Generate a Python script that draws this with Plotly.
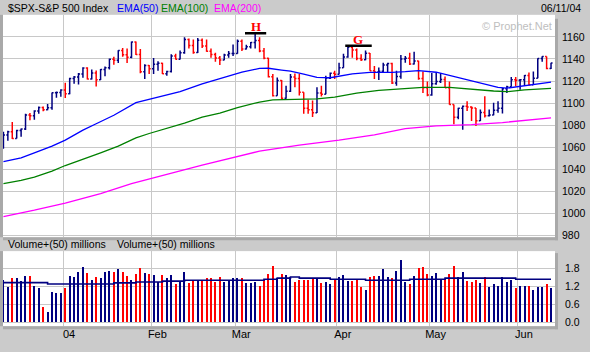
import pandas as pd
import plotly.graph_objects as go

# ---------------- data ----------------
holidays = ["2003-12-25", "2004-01-01", "2004-01-19", "2004-02-16",
            "2004-04-09", "2004-05-31"]
dates = pd.bdate_range("2003-12-11", "2004-06-10", freq="C", holidays=holidays)

closes = [
    1071.21, 1074.14, 1068.04, 1075.13, 1076.48, 1089.18, 1088.66, 1092.94, 1096.02, 1094.04,
    1095.89, 1109.48, 1109.64, 1111.92,
    1108.48, 1122.22, 1123.67, 1126.33, 1131.92, 1121.86, 1127.23, 1121.22, 1130.52, 1132.05,
    1139.83, 1138.77, 1147.62, 1143.94, 1141.55, 1155.37, 1144.05, 1128.48, 1134.11, 1131.13,
    1135.26, 1136.03, 1126.52, 1128.59, 1142.76, 1139.81, 1145.54, 1157.76, 1152.11, 1145.81,
    1156.99, 1151.82, 1147.06, 1144.11, 1140.99, 1139.09, 1143.67, 1144.91, 1144.94,
    1155.97, 1149.10, 1151.03, 1154.87, 1156.86, 1147.20, 1140.58, 1123.89, 1106.78, 1120.57,
    1104.49, 1110.70, 1123.75, 1122.32, 1109.78, 1095.40, 1093.95, 1091.33, 1109.19, 1108.06,
    1122.47, 1127.00, 1126.21,
    1132.17, 1141.81, 1150.57, 1148.16, 1140.53, 1139.32, 1145.20, 1129.44, 1128.17, 1128.84,
    1134.61, 1135.82, 1118.15, 1124.09, 1139.93, 1140.60, 1135.53, 1138.11, 1122.41, 1113.89,
    1107.30,
    1117.49, 1119.55, 1121.53, 1113.99, 1098.70, 1087.12, 1095.45, 1097.28, 1096.44, 1095.70,
    1084.10, 1091.49, 1088.68, 1089.19, 1093.56, 1095.41, 1113.05, 1114.94, 1121.28, 1120.68,
    1121.20, 1124.99, 1116.64, 1122.50, 1140.42, 1142.18, 1131.33, 1136.47,
]

opens = [
    1059.05, 1071.21, 1074.14, 1068.04, 1075.13, 1076.48, 1089.18, 1088.66, 1092.94, 1096.02,
    1094.04, 1095.89, 1109.48, 1109.64,
    1111.92, 1108.48, 1122.22, 1123.67, 1126.33, 1131.92, 1121.86, 1127.23, 1121.22, 1130.52,
    1132.05, 1139.83, 1138.77, 1147.62, 1143.94, 1141.55, 1155.37, 1144.05, 1128.48, 1134.11,
    1131.13, 1135.26, 1136.03, 1126.52, 1128.59, 1142.76, 1139.81, 1145.54, 1157.76, 1152.11,
    1145.81, 1156.99, 1151.82, 1147.06, 1144.11, 1140.99, 1139.09, 1143.67, 1144.91,
    1144.94, 1155.97, 1149.10, 1151.03, 1154.87, 1156.86, 1147.20, 1140.58, 1123.89, 1106.78,
    1120.57, 1104.49, 1110.70, 1123.75, 1122.32, 1109.78, 1095.40, 1093.95, 1091.33, 1109.19,
    1108.06, 1122.47, 1127.00,
    1126.21, 1132.17, 1141.81, 1150.57, 1148.16, 1140.53, 1139.32, 1145.20, 1129.44, 1128.17,
    1128.84, 1134.61, 1135.82, 1118.15, 1124.09, 1139.93, 1140.60, 1135.53, 1138.11, 1122.41,
    1113.89,
    1107.30, 1117.49, 1119.55, 1121.53, 1113.99, 1098.70, 1087.12, 1095.45, 1097.28, 1096.44,
    1095.70, 1084.10, 1091.49, 1088.68, 1089.19, 1093.56, 1095.41, 1113.05, 1114.94, 1121.28,
    1120.68, 1121.20, 1124.99, 1116.64, 1122.50, 1140.42, 1142.18, 1131.33,
]

highs = [
    1074.0, 1075.0, 1083.0, 1076.0, 1077.0, 1090.4, 1091.0, 1093.5, 1097.0, 1097.0,
    1099.3, 1109.6, 1110.5, 1112.5,
    1118.5, 1123.0, 1124.5, 1127.4, 1132.5, 1132.5, 1130.4, 1129.5, 1130.9, 1133.3,
    1140.5, 1142.0, 1148.0, 1150.0, 1149.6, 1155.8, 1155.8, 1149.0, 1135.2, 1134.6,
    1141.0, 1138.0, 1136.7, 1129.3, 1144.2, 1144.8, 1147.8, 1159.7, 1158.5, 1157.6,
    1159.0, 1158.5, 1157.6, 1149.6, 1145.7, 1142.7, 1144.8, 1147.2, 1153.1,
    1157.6, 1157.6, 1153.0, 1155.5, 1163.2, 1159.7, 1150.0, 1141.2, 1126.3, 1123.3,
    1121.0, 1115.8, 1126.3, 1126.9, 1126.3, 1109.9, 1103.0, 1102.4, 1114.3, 1115.8,
    1124.8, 1127.8, 1129.3,
    1136.7, 1144.8, 1151.6, 1151.6, 1149.6, 1144.2, 1147.8, 1145.5, 1133.7, 1132.2,
    1136.7, 1136.7, 1136.7, 1129.3, 1143.6, 1142.7, 1145.7, 1146.6, 1138.5, 1128.7,
    1119.7,
    1127.2, 1127.2, 1127.2, 1124.2, 1119.7, 1098.8, 1095.8, 1097.9, 1101.8, 1097.3,
    1092.8, 1094.3, 1106.3, 1094.3, 1100.3, 1101.8, 1113.8, 1115.8, 1123.6, 1123.6,
    1121.8, 1125.5, 1127.8, 1128.7, 1140.6, 1142.5, 1141.5, 1136.7,
]

lows = [
    1059.0, 1066.0, 1067.5, 1068.0, 1069.6, 1075.6, 1084.4, 1085.0, 1090.4, 1092.7,
    1093.5, 1094.0, 1105.0, 1105.9,
    1104.6, 1108.0, 1117.6, 1117.0, 1123.0, 1121.5, 1121.5, 1115.0, 1121.0, 1124.4,
    1130.4, 1134.8, 1136.3, 1142.0, 1136.3, 1140.7, 1143.7, 1127.0, 1121.8, 1126.3,
    1126.3, 1129.3, 1126.3, 1124.8, 1127.8, 1139.5, 1139.5, 1144.8, 1149.6, 1144.8,
    1145.5, 1150.0, 1146.6, 1141.2, 1137.6, 1134.6, 1138.8, 1141.2, 1142.7,
    1144.8, 1147.2, 1148.7, 1149.6, 1149.6, 1146.0, 1139.7, 1123.3, 1106.0, 1106.9,
    1103.0, 1103.9, 1110.2, 1114.3, 1106.9, 1090.4, 1090.5, 1087.5, 1091.0, 1106.0,
    1108.0, 1121.8, 1121.8,
    1126.0, 1132.0, 1141.2, 1141.2, 1138.8, 1138.2, 1138.8, 1129.3, 1121.8, 1120.9,
    1127.8, 1127.8, 1117.3, 1115.8, 1122.0, 1136.7, 1134.6, 1135.0, 1121.2, 1109.3,
    1106.3,
    1106.8, 1116.7, 1118.2, 1113.7, 1098.5, 1080.9, 1085.4, 1075.8, 1092.8, 1083.9,
    1079.4, 1083.9, 1086.9, 1087.8, 1089.0, 1091.3, 1090.7, 1109.3, 1115.2, 1115.2,
    1112.2, 1115.8, 1116.2, 1116.5, 1122.5, 1137.6, 1130.7, 1131.0,
]

volumes = [
    1.41, 1.19, 1.47, 1.49, 1.39, 1.56, 1.56, 1.22, 1.13, 0.49,
    0.32, 1.02, 0.97, 0.97, 1.13, 1.56, 1.50, 1.69, 1.86, 1.66,
    1.41, 1.53, 1.47, 1.69, 1.71, 1.69, 1.77, 1.69, 1.55, 1.40,
    1.60, 1.82, 1.66, 1.63, 1.58, 1.36, 1.59, 1.49, 1.58, 1.27,
    1.36, 1.69, 1.30, 1.41, 1.39, 1.41, 1.49, 1.47, 1.36, 1.52,
    1.33, 1.38, 1.47, 1.47, 1.47, 1.30, 1.30, 1.36, 1.22, 1.43,
    1.62, 1.89, 1.49, 1.60, 1.58, 1.52, 1.36, 1.43, 1.43, 1.43,
    1.47, 1.47, 1.30, 1.36, 1.28, 1.43, 1.52, 1.58, 1.39, 1.39,
    1.43, 1.19, 1.08, 1.52, 1.54, 1.56, 1.80, 1.52, 1.49, 1.71,
    2.08, 1.36, 1.27, 1.56, 1.82, 1.86, 1.62, 1.56, 1.66, 1.43,
    1.44, 1.62, 1.89, 1.52, 1.69, 1.39, 1.33, 1.43, 1.32, 1.52,
    1.19, 1.27, 1.22, 1.52, 1.36, 1.43, 1.16, 1.22, 1.22, 1.22,
    1.08, 1.19, 1.19, 1.27, 1.16,
]

# 50-day average volume (stepped line): bar index where each level starts
vol_avg_idx = [0, 10, 25, 30, 36, 41, 59, 62, 65, 67, 74, 82, 92, 100, 116, 124]
vol_avg_val = [1.33, 1.28, 1.32, 1.35, 1.38, 1.41, 1.44, 1.48, 1.52, 1.48, 1.44,
               1.41, 1.44, 1.48, 1.44, 1.44]

# EMA lines (bar index, value)
ema50_idx = [0, 4, 7, 11, 14, 18, 21, 25, 30, 34, 37, 40, 45, 50, 54, 58, 60, 63, 65,
             68, 71, 74, 76, 79, 83, 88, 91, 94, 98, 103, 107, 112, 114, 118, 124]
ema50_val = [1047.0, 1050.5, 1055.0, 1061.0, 1066.5, 1075.5, 1081.3, 1089.0, 1100.5,
             1104.5, 1107.5, 1110.5, 1117.5, 1123.5, 1128.0, 1131.5, 1131.6, 1130.0,
             1129.0, 1126.2, 1123.3, 1123.0, 1124.5, 1126.5, 1127.8, 1127.8, 1128.5,
             1129.5, 1128.0, 1123.3, 1119.0, 1114.3, 1113.6, 1115.8, 1119.0]
ema100_idx = [0, 4, 7, 11, 14, 18, 22, 26, 30, 33, 37, 41, 45, 49, 53, 58, 61, 65, 71,
              75, 80, 85, 90, 95, 101, 106, 111, 114, 118, 124]
ema100_val = [1027.0, 1030.0, 1033.0, 1038.5, 1043.5, 1049.0, 1055.0, 1061.0, 1068.5,
              1072.5, 1077.0, 1082.0, 1087.3, 1091.0, 1096.0, 1101.0, 1103.0, 1103.2,
              1103.9, 1105.5, 1109.0, 1111.5, 1113.0, 1114.3, 1114.3, 1112.5, 1111.0,
              1110.4, 1112.0, 1113.4]
ema200_idx = [0, 7, 14, 22, 29, 34, 37, 45, 52, 58, 67, 76, 84, 91, 98, 106, 113, 118, 124]
ema200_val = [997.3, 1003.0, 1009.5, 1018.0, 1027.0, 1032.0, 1035.5, 1043.8, 1051.0,
              1056.5, 1062.0, 1066.5, 1071.3, 1077.0, 1079.4, 1080.6, 1082.4, 1084.4,
              1086.7]

month_labels = ["04", "Feb", "Mar", "Apr", "May", "Jun"]
price_ticks = [980, 1000, 1020, 1040, 1060, 1080, 1100, 1120, 1140, 1160]
vol_ticks = [0.0, 0.6, 1.2, 1.8]

# chart-pattern marks (label, first bar, last bar, level of bar, level of label)
pattern_labels = ["H", "G"]
pattern_x0 = [54.7, 77.4]
pattern_x1 = [59.5, 83.4]
pattern_level = [1163.3, 1151.9]
pattern_text_level = [1169.0, 1157.2]

# ---------------- figure ----------------
W, H = 590, 352
NAVY, RED = "#000080", "#FF0000"
GRID = "#C8C8C8"
BG = "#CBCBCB"
FONT = "Liberation Sans, Arial, sans-serif"

n = len(closes)
idx = list(range(n))
highs = [max(h, o, c) for h, o, c in zip(highs, opens, closes)]
lows = [min(l, o, c) for l, o, c in zip(lows, opens, closes)]
up = [i for i in idx if closes[i] >= opens[i]]
dn = [i for i in idx if closes[i] < opens[i]]

month_first = [i for i in range(1, len(dates)) if dates[i].month != dates[i - 1].month]
grid_x = [m - 0.5 for m in month_first]

fig = go.Figure()

for sel, col in ((up, NAVY), (dn, RED)):
    fig.add_trace(go.Ohlc(
        x=sel,
        open=[opens[i] for i in sel], high=[highs[i] for i in sel],
        low=[lows[i] for i in sel], close=[closes[i] for i in sel],
        increasing_line_color=col, decreasing_line_color=col,
        line_width=1.5, tickwidth=0.35, xaxis="x", yaxis="y",
        showlegend=False, hoverinfo="skip"))

for xs, ys, col in ((ema200_idx, ema200_val, "#FF00FF"),
                    (ema100_idx, ema100_val, "#008000"),
                    (ema50_idx, ema50_val, "#0000FF")):
    fig.add_trace(go.Scatter(x=xs, y=ys, mode="lines", line=dict(color=col, width=1.3),
                             xaxis="x", yaxis="y", showlegend=False, hoverinfo="skip"))

fig.add_trace(go.Bar(
    x=idx, y=volumes, width=0.24,
    marker=dict(color=[NAVY if closes[i] >= opens[i] else RED for i in idx], line_width=0),
    xaxis="x2", yaxis="y2", showlegend=False, hoverinfo="skip"))

fig.add_trace(go.Scatter(x=vol_avg_idx, y=vol_avg_val, mode="lines", line_shape="hv",
                         line=dict(color=NAVY, width=1.6), xaxis="x2", yaxis="y2",
                         showlegend=False, hoverinfo="skip"))

x_dom = [3 / W, 555 / W]
axis_font = dict(family=FONT, size=10.5, color="black")

fig.update_layout(
    width=W, height=H, margin=dict(l=0, r=0, t=0, b=0),
    paper_bgcolor=BG, plot_bgcolor="white", bargap=0,
    xaxis=dict(domain=x_dom, range=[-0.1, 124.9], anchor="y",
               tickvals=grid_x, showticklabels=False, ticks="",
               showgrid=True, gridcolor=GRID, gridwidth=1, zeroline=False,
               rangeslider=dict(visible=False), showline=False),
    xaxis2=dict(domain=x_dom, range=[-0.1, 124.9], anchor="y2", matches="x",
                tickvals=grid_x, ticktext=month_labels, ticks="", ticklabelshift=6,
                tickfont=dict(family=FONT, size=11, color="black"),
                showgrid=True, gridcolor=GRID, gridwidth=1, zeroline=False, showline=False),
    yaxis=dict(domain=[1 - 240 / H, 1 - 15 / H], range=[978.5, 1180], side="right",
               anchor="x", tickvals=price_ticks, ticks="", tickfont=axis_font,
               ticklabelstandoff=6,
               showgrid=True, gridcolor=GRID, gridwidth=1, zeroline=False, showline=False),
    yaxis2=dict(domain=[1 - 330 / H, 1 - 254 / H], range=[-0.14, 2.39], side="right",
                anchor="x2", tickvals=vol_ticks, ticktext=[f"{v:.1f}" for v in vol_ticks],
                ticks="", tickfont=axis_font, ticklabelstandoff=9,
                showgrid=True, gridcolor=GRID, gridwidth=1,
                zeroline=False, showline=False),
)

# header / panel texts
def ptext(txt, x, y, color="black", size=10.5, anchor="left", family=FONT):
    fig.add_annotation(text=txt, x=x / W, y=1 - y / H, xref="paper", yref="paper",
                       xanchor=anchor, yanchor="middle", showarrow=False,
                       font=dict(family=family, size=size, color=color))

ptext("$SPX-S&amp;P 500 Index", 6, 8)
ptext("EMA(50)", 115, 8, "#0000FF")
ptext("EMA(100)", 159, 8, "#008000")
ptext("EMA(200)", 212, 8, "#FF00FF")
ptext("06/11/04", 583, 8, anchor="right")
ptext("© Prophet.Net", 554, 26, "#BEBEBE", size=11, anchor="right")
ptext("Volume+(50) millions", 6, 247)
ptext("Volume+(50) millions", 115, 247)

# H / G pattern marks
for lab, x0, x1, lv, tl in zip(pattern_labels, pattern_x0, pattern_x1, pattern_level,
                               pattern_text_level):
    fig.add_shape(type="line", x0=x0, x1=x1, y0=lv, y1=lv, xref="x", yref="y",
                  line=dict(color="black", width=2.5))
    fig.add_annotation(text=f"<b>{lab}</b>", x=(x0 + x1) / 2, y=tl, xref="x", yref="y",
                       showarrow=False, yanchor="middle",
                       font=dict(family="Liberation Serif, serif", size=13, color="#FF0000"))

# panel borders (dithered frame look)
for (x0, x1, y0, y1) in ((555, 558, 19, 243), (555, 558, 256, 333), (0, 3, 15, 240),
                         (0, 3, 254, 330), (3, 558, 240, 243), (3, 558, 330, 333)):
    fig.add_shape(type="rect", xref="paper", yref="paper", x0=x0 / W, x1=x1 / W,
                  y0=1 - y1 / H, y1=1 - y0 / H, fillcolor="#A9A9A9", line_width=0,
                  layer="above")

fig.write_html("out.html")
